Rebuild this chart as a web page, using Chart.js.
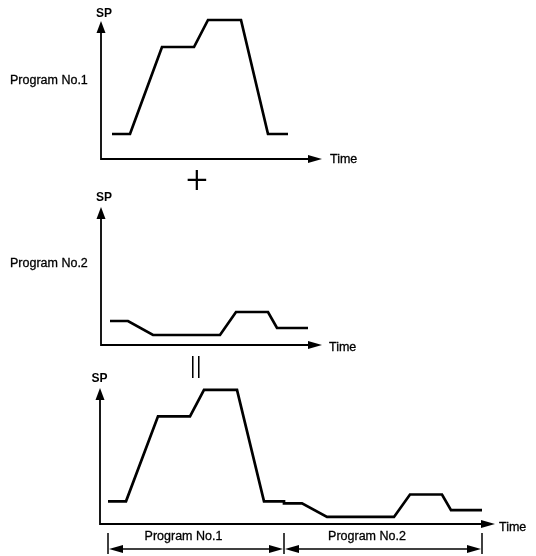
<!DOCTYPE html>
<html><head><meta charset="utf-8">
<script src="https://cdn.jsdelivr.net/npm/chart.js@4.4.0/dist/chart.umd.min.js"></script>
<style>
html,body{margin:0;padding:0;background:#fff;}
#wrap{position:relative;width:536px;height:556px;overflow:hidden;font-family:"Liberation Sans",Arial,sans-serif;color:#000;}
canvas{position:absolute;left:0;}
.t{position:absolute;font-size:12.5px;line-height:12.5px;white-space:nowrap;-webkit-text-stroke:0.3px #000;}
.c{transform:translate(-50%,-50%);}
.l{transform:translateY(-50%);}
.sp{font-weight:bold;font-size:12px;line-height:12px;-webkit-text-stroke:0;}
.sym{position:absolute;font-family:Roboto,"DejaVu Sans",sans-serif;font-weight:300;font-size:38px;line-height:38px;white-space:nowrap;}
</style></head><body>
<div id="wrap">
<canvas id="c1" width="536" height="180" style="top:0px"></canvas>
<canvas id="c2" width="536" height="185" style="top:180px"></canvas>
<canvas id="c3" width="536" height="191" style="top:365px"></canvas>

<div class="t c sp" style="left:104px;top:12.5px">SP</div>
<div class="t l" style="left:10px;top:80px">Program No.1</div>
<div class="t l" style="left:330px;top:159px">Time</div>
<div class="sym c" style="left:197px;top:180px">+</div>

<div class="t c sp" style="left:104px;top:197px">SP</div>
<div class="t l" style="left:10px;top:263px">Program No.2</div>
<div class="t l" style="left:329px;top:347px">Time</div>
<div class="sym" style="left:195.5px;top:367px;font-size:34px;line-height:34px;transform:translate(-50%,-50%) rotate(90deg) scale(1.6,0.85)">=</div>

<div class="t c sp" style="left:99.5px;top:377.5px">SP</div>
<div class="t l" style="left:499px;top:527px">Time</div>
<div class="t c" style="left:183.5px;top:536px">Program No.1</div>
<div class="t c" style="left:367px;top:536px">Program No.2</div>
</div>
<script>
// ---- data (time, SP) ----
const prog1Time = [0, 18, 50, 82, 96, 129, 156, 176];
const prog1SP   = [26, 26, 113, 113, 140, 140, 26, 26];
const prog2Time = [0, 18, 43, 110, 126, 158, 167, 198];
const prog2SP   = [24, 24, 10, 10, 33, 33, 17, 17];

// combined program: No.2 follows No.1
const prog1End = prog1Time[prog1Time.length - 1];
const combTime = prog1Time.concat(prog2Time.map(t => t + prog1End));
const combSP   = prog1SP.concat(prog2SP);
const programMarks = [0, prog1End, prog1End + prog2Time[prog2Time.length - 1]];

function pts(ts, vs){ return ts.map((t,i)=>({x:t, y:vs[i]})); }

const axesPlugin = {
  id: 'axesArrows',
  beforeDatasetsDraw(chart){
    const {ctx, chartArea:a} = chart;
    ctx.save();
    ctx.strokeStyle = '#000'; ctx.fillStyle = '#000'; ctx.lineWidth = 1.8;
    ctx.beginPath();
    ctx.moveTo(a.left, a.top + 8);
    ctx.lineTo(a.left, a.bottom);
    ctx.lineTo(a.right - 10, a.bottom);
    ctx.stroke();
    ctx.beginPath();
    ctx.moveTo(a.left, a.top); ctx.lineTo(a.left - 4.5, a.top + 12); ctx.lineTo(a.left + 4.5, a.top + 12);
    ctx.closePath(); ctx.fill();
    ctx.beginPath();
    ctx.moveTo(a.right, a.bottom); ctx.lineTo(a.right - 14, a.bottom - 4); ctx.lineTo(a.right - 14, a.bottom + 4);
    ctx.closePath(); ctx.fill();
    ctx.restore();
  }
};

const bracketPlugin = {
  id: 'bracket',
  afterDatasetsDraw(chart, args, opts){
    if (!opts || !opts.marks) return;
    const {ctx} = chart;
    const xs = opts.marks.map(v => chart.scales.x.getPixelForValue(v));
    const y = opts.y;
    ctx.save();
    ctx.strokeStyle = '#000'; ctx.fillStyle = '#000'; ctx.lineWidth = 1.5;
    xs.forEach(x => { ctx.beginPath(); ctx.moveTo(x, y - 16); ctx.lineTo(x, y + 5); ctx.stroke(); });
    function head(x, dir){
      ctx.beginPath(); ctx.moveTo(x, y); ctx.lineTo(x + dir*14, y - 4); ctx.lineTo(x + dir*14, y + 4);
      ctx.closePath(); ctx.fill();
    }
    for (let i = 0; i < xs.length - 1; i++){
      const x0 = xs[i] + 1, x1 = xs[i+1] - 1;
      ctx.beginPath(); ctx.moveTo(x0 + 8, y); ctx.lineTo(x1 - 8, y); ctx.stroke();
      head(x0, 1); head(x1, -1);
    }
    ctx.restore();
  }
};

function makeChart(id, data, pad, xr, yr, bracket){
  return new Chart(document.getElementById(id), {
    type: 'scatter',
    data: { datasets: [{
      data: data, showLine: true, pointRadius: 0, borderColor: '#000', borderWidth: 2.7,
      tension: 0, clip: false, borderJoinStyle: 'miter', borderCapStyle: 'butt', fill: false
    }]},
    options: {
      responsive: false, animation: false, devicePixelRatio: 1,
      layout: { padding: pad },
      scales: {
        x: { type: 'linear', display: false, min: xr[0], max: xr[1] },
        y: { type: 'linear', display: false, min: yr[0], max: yr[1] }
      },
      plugins: { legend: {display:false}, tooltip: {enabled:false}, bracket: bracket || {} }
    },
    plugins: [axesPlugin, bracketPlugin]
  });
}

makeChart('c1', pts(prog1Time, prog1SP), {left:101, top:21, right:214, bottom:21}, [-11, 210], [1, 139]);
makeChart('c2', pts(prog2Time, prog2SP), {left:101, top:27, right:214, bottom:20}, [-9, 212], [0, 138]);
makeChart('c3', pts(combTime, combSP), {left:100, top:23, right:41, bottom:32}, [-8, 387], [2.8, 142],
  {marks: programMarks, y: 184});
</script>
</body></html>
